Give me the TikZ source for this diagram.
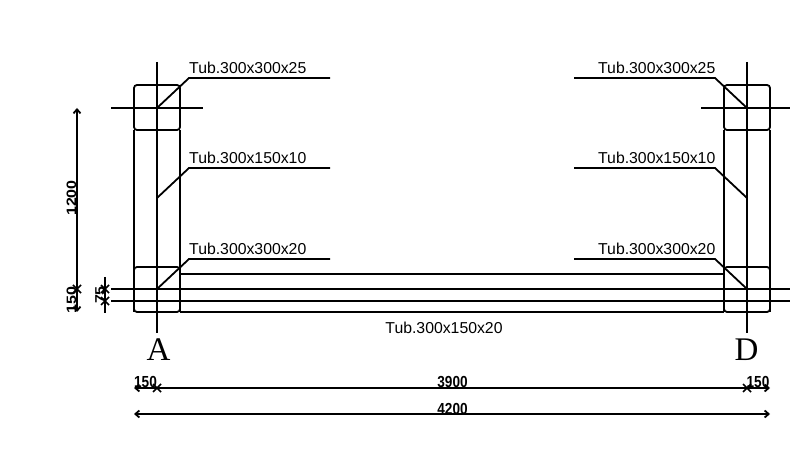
\documentclass[tikz,border=0pt]{standalone}
\usetikzlibrary{arrows.meta}
\usepackage{fontspec}
\setmainfont{Liberation Sans}
\newfontfamily\serifA{Liberation Serif}
\begin{document}
\begin{tikzpicture}[x=1pt,y=-1pt,
  line/.style={draw=black,line width=1.8pt},
  arr/.style={line,{Straight Barb[length=4pt,width=7pt]}-{Straight Barb[length=4pt,width=7pt]}},
  lab/.style={font=\fontsize{15.8}{16}\selectfont,inner sep=0pt,anchor=base west},
  labr/.style={font=\fontsize{15.8}{16}\selectfont,inner sep=0pt,anchor=base east},
  dimt/.style={font=\fontsize{16}{16}\selectfont,inner sep=0pt,anchor=base,xscale=0.85},
  letter/.style={font=\serifA\fontsize{33}{33}\selectfont,inner sep=0pt,anchor=base}]
\useasboundingbox (0,0) rectangle (790,454);
% columns
\draw[line] (134,130) -- (134,312);
\draw[line] (180,130) -- (180,312);
\draw[line] (724,130) -- (724,312);
\draw[line] (770,130) -- (770,312);
% boxes
\foreach \x/\y in {134/85,724/85,134/267,724/267}
  \draw[line,rounded corners=3pt] (\x,\y) rectangle ++(46,45);
% beam
\draw[line] (180,274) -- (724,274);
\draw[line] (180,312) -- (724,312);
\draw[line] (111,289) -- (790,289);
\draw[line] (111,301) -- (790,301);
% axes
\draw[line] (157,62) -- (157,333);
\draw[line] (747,62) -- (747,333);
\draw[line] (111,108) -- (203,108);
\draw[line] (701,108) -- (790,108);
% leaders
\foreach \y in {78,168,259}{
  \draw[line] (157,\y+30) -- (189,\y) -- (330,\y);
  \draw[line] (747,\y+30) -- (715,\y) -- (574,\y);
}
\node[lab] (l1) at (189,74) {Tub.300x300x25};
\node[lab] (l2) at (189,164) {Tub.300x150x10};
\node[lab] (l3) at (189,255) {Tub.300x300x20};
\node[labr] (r1) at (715.5,74) {Tub.300x300x25};
\node[labr] (r2) at (715.5,164) {Tub.300x150x10};
\node[labr] (r3) at (715.5,255) {Tub.300x300x20};
\node[font=\fontsize{15.8}{16}\selectfont,inner sep=0pt,anchor=base] (b) at (444,333.5) {Tub.300x150x20};
\node[letter] (A) at (158.5,360) {A};
\node[letter] (D) at (746.5,360) {D};
% dims
\draw[arr] (77,108) -- (77,312);
\draw[arr] (134,388) -- (770,388);
\draw[arr] (134,414) -- (770,414);
\draw[line] (105,277) -- (105,313);
\foreach \p in {(77,289),(105,289),(105,301),(157,388),(747,388)}
  \draw[line width=1.6pt] \p ++(-4,-4) -- ++(8,8) \p ++(-4,4) -- ++(8,-8);
\node[dimt] (d1) at (452.5,387.5) {\textbf{3900}};
\node[dimt] (d2) at (452.5,414) {\textbf{4200}};
\node[dimt] (d3) at (145.5,387.5) {\textbf{150}};
\node[dimt] (d4) at (758,387.5) {\textbf{150}};
\node[dimt,rotate=90] (d5) at (76,198) {\textbf{1200}};
\node[dimt,rotate=90] (d6) at (76,300) {\textbf{150}};
\node[dimt,rotate=90] (d7) at (104.5,295) {\textbf{75}};
\end{tikzpicture}
\end{document}
